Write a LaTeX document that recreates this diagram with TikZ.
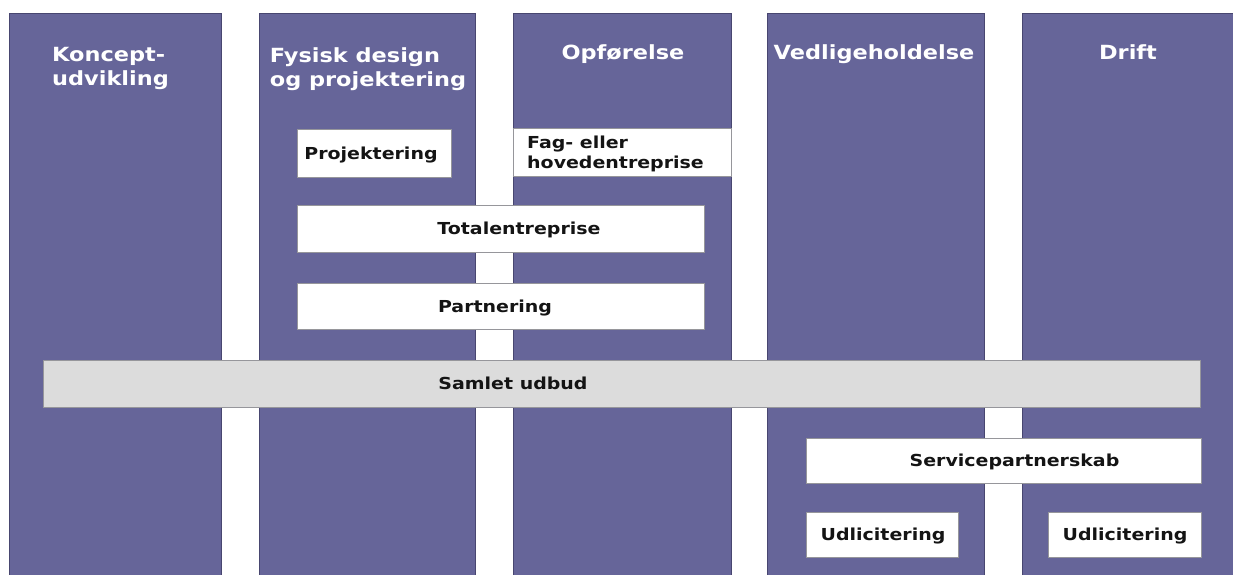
\documentclass[tikz,border=0pt]{standalone}
\usepackage{fontspec}
\setmainfont{DejaVu Sans}[FakeStretch=1.15]
\definecolor{colfill}{RGB}{102,101,153}
\definecolor{coledge}{RGB}{72,70,112}
\definecolor{grayfill}{RGB}{220,220,220}
\definecolor{boxedge}{RGB}{150,150,155}
\definecolor{txt}{RGB}{20,20,20}
\tikzset{
  phase/.style={draw=coledge, line width=0.8pt, fill=colfill},
  wbox/.style={draw=boxedge, line width=0.8pt, fill=white},
  gbox/.style={draw=boxedge, line width=0.8pt, fill=grayfill},
  head/.style={text=white, font=\fontsize{19.5}{24.5}\selectfont\bfseries, inner sep=0pt, align=left},
  btxt/.style={text=txt, font=\fontsize{16.5}{20}\selectfont\bfseries, inner sep=0pt, anchor=base},
}
\begin{document}
\begin{tikzpicture}[x=1pt,y=-1pt]
\useasboundingbox (0,0) rectangle (1233,574);
\fill[white] (0,0) rectangle (1233,574);
% phase columns
\draw[phase] (9,13) rectangle (221,578);
\draw[phase] (259,13) rectangle (475,578);
\draw[phase] (513,13) rectangle (731,578);
\draw[phase] (767,13) rectangle (984,578);
\draw[phase] (1022,13) rectangle (1237,578);
% headers
\node[head, anchor=north west] (h1) at (52,47) {Koncept-\\udvikling};
\node[head, anchor=north] (h2) at (368,47) {Fysisk design\\og projektering};
\node[head, anchor=north] (h3) at (623,44) {Opførelse};
\node[head, anchor=north] (h4) at (874,44) {Vedligeholdelse};
\node[head, anchor=north] (h5) at (1128,44) {Drift};
% boxes
\draw[wbox] (297,129) rectangle (451,177);
\node[btxt] (projektering) at (371,159) {Projektering};
\draw[wbox] (513,128) rectangle (731,176);
\node[btxt, anchor=base west] (fag1) at (527,148) {Fag- eller};
\node[btxt, anchor=base west] (fag2) at (527,168) {hovedentreprise};
\draw[wbox] (297,205) rectangle (704,252);
\node[btxt] (total) at (519,234.5) {Totalentreprise};
\draw[wbox] (297,283) rectangle (704,329);
\node[btxt] (partnering) at (495,312) {Partnering};
\draw[gbox] (43,360) rectangle (1200,407);
\node[btxt] (samlet) at (513,389.5) {Samlet udbud};
\draw[wbox] (806,438) rectangle (1201,483);
\node[btxt] (service) at (1014.5,466.5) {Servicepartnerskab};
\draw[wbox] (806,512) rectangle (958,557);
\node[btxt] (udl1) at (883,540.5) {Udlicitering};
\draw[wbox] (1048,512) rectangle (1201,557);
\node[btxt] (udl2) at (1125,540.5) {Udlicitering};
\end{tikzpicture}
\end{document}
